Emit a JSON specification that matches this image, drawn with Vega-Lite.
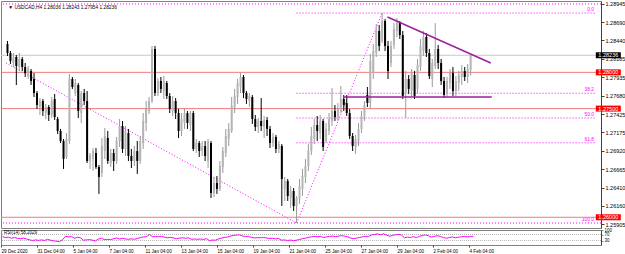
{
"$schema": "https://vega.github.io/schema/vega-lite/v6.json",
"padding": 0,
"spacing": 2,
"bounds": "flush",
"background": "white",
"config": {"view": {"stroke": "#808080"}, "font": "Liberation Sans", "axis": {"grid": false}},
"datasets": {
"bars": [
{"i":0,"o":1.28392,"h":1.28433,"l":1.28226,"c":1.28267,"r":55},
{"i":1,"o":1.28267,"h":1.28295,"l":1.28116,"c":1.28157,"r":50},
{"i":2,"o":1.28129,"h":1.28267,"l":1.28074,"c":1.28212,"r":52},
{"i":3,"o":1.28212,"h":1.2824,"l":1.27826,"c":1.28088,"r":45},
{"i":4,"o":1.28074,"h":1.28267,"l":1.28019,"c":1.28185,"r":50},
{"i":5,"o":1.28185,"h":1.28212,"l":1.28019,"c":1.28074,"r":45},
{"i":6,"o":1.28074,"h":1.28129,"l":1.27936,"c":1.27991,"r":42},
{"i":7,"o":1.27964,"h":1.28088,"l":1.27909,"c":1.28047,"r":46},
{"i":8,"o":1.28019,"h":1.28047,"l":1.27826,"c":1.27881,"r":40},
{"i":9,"o":1.27909,"h":1.27991,"l":1.2766,"c":1.27715,"r":35},
{"i":10,"o":1.27715,"h":1.27743,"l":1.27495,"c":1.2755,"r":30},
{"i":11,"o":1.27522,"h":1.27646,"l":1.27412,"c":1.27605,"r":34},
{"i":12,"o":1.27605,"h":1.27633,"l":1.27398,"c":1.27467,"r":31},
{"i":13,"o":1.27439,"h":1.27564,"l":1.27357,"c":1.27522,"r":34},
{"i":14,"o":1.27522,"h":1.2755,"l":1.27329,"c":1.27412,"r":30},
{"i":15,"o":1.27412,"h":1.2766,"l":1.2737,"c":1.27605,"r":38},
{"i":16,"o":1.27633,"h":1.27702,"l":1.27343,"c":1.27384,"r":32},
{"i":17,"o":1.27357,"h":1.27384,"l":1.2715,"c":1.27191,"r":28},
{"i":18,"o":1.27191,"h":1.27219,"l":1.27025,"c":1.27053,"r":25},
{"i":19,"o":1.27053,"h":1.27081,"l":1.26667,"c":1.26805,"r":22},
{"i":20,"o":1.26832,"h":1.27163,"l":1.26805,"c":1.27081,"r":35},
{"i":21,"o":1.27053,"h":1.27978,"l":1.27012,"c":1.27909,"r":58},
{"i":22,"o":1.27909,"h":1.27936,"l":1.27771,"c":1.27798,"r":54},
{"i":23,"o":1.27715,"h":1.27909,"l":1.27674,"c":1.27853,"r":56},
{"i":24,"o":1.27826,"h":1.27853,"l":1.2737,"c":1.27467,"r":45},
{"i":25,"o":1.27439,"h":1.27743,"l":1.27301,"c":1.27715,"r":52},
{"i":26,"o":1.27715,"h":1.27771,"l":1.2755,"c":1.27605,"r":48},
{"i":27,"o":1.27605,"h":1.27743,"l":1.26749,"c":1.26777,"r":32},
{"i":28,"o":1.26777,"h":1.26887,"l":1.26667,"c":1.2686,"r":34},
{"i":29,"o":1.26805,"h":1.26956,"l":1.26639,"c":1.26915,"r":36},
{"i":30,"o":1.26887,"h":1.26956,"l":1.26667,"c":1.26694,"r":32},
{"i":31,"o":1.26694,"h":1.26722,"l":1.26322,"c":1.26557,"r":28},
{"i":32,"o":1.26611,"h":1.27094,"l":1.26557,"c":1.26984,"r":40},
{"i":33,"o":1.26915,"h":1.27232,"l":1.26805,"c":1.27122,"r":44},
{"i":34,"o":1.27094,"h":1.27191,"l":1.26736,"c":1.26777,"r":36},
{"i":35,"o":1.26749,"h":1.26943,"l":1.26694,"c":1.26887,"r":38},
{"i":36,"o":1.26887,"h":1.26943,"l":1.26639,"c":1.26777,"r":36},
{"i":37,"o":1.26777,"h":1.27108,"l":1.26736,"c":1.27053,"r":42},
{"i":38,"o":1.27053,"h":1.27357,"l":1.2697,"c":1.2726,"r":47},
{"i":39,"o":1.2726,"h":1.27329,"l":1.26887,"c":1.26943,"r":40},
{"i":40,"o":1.26943,"h":1.2726,"l":1.26846,"c":1.27191,"r":45},
{"i":41,"o":1.27163,"h":1.27219,"l":1.26777,"c":1.26846,"r":40},
{"i":42,"o":1.26846,"h":1.26943,"l":1.2668,"c":1.26777,"r":38},
{"i":43,"o":1.26777,"h":1.26984,"l":1.26708,"c":1.26915,"r":41},
{"i":44,"o":1.26915,"h":1.27053,"l":1.26598,"c":1.26777,"r":38},
{"i":45,"o":1.26777,"h":1.27122,"l":1.26736,"c":1.27053,"r":44},
{"i":46,"o":1.27025,"h":1.27439,"l":1.26943,"c":1.27329,"r":50},
{"i":47,"o":1.27301,"h":1.27605,"l":1.27191,"c":1.27495,"r":54},
{"i":48,"o":1.27467,"h":1.2766,"l":1.27426,"c":1.27605,"r":56},
{"i":49,"o":1.27605,"h":1.28364,"l":1.27577,"c":1.28323,"r":70},
{"i":50,"o":1.28323,"h":1.28364,"l":1.27674,"c":1.27715,"r":55},
{"i":51,"o":1.27715,"h":1.27922,"l":1.27674,"c":1.27881,"r":58},
{"i":52,"o":1.27881,"h":1.27936,"l":1.27715,"c":1.27771,"r":55},
{"i":53,"o":1.27743,"h":1.2795,"l":1.27633,"c":1.27881,"r":58},
{"i":54,"o":1.27853,"h":1.27881,"l":1.27633,"c":1.27674,"r":52},
{"i":55,"o":1.27674,"h":1.27715,"l":1.27439,"c":1.27495,"r":48},
{"i":56,"o":1.27467,"h":1.27674,"l":1.27398,"c":1.27605,"r":51},
{"i":57,"o":1.27605,"h":1.27646,"l":1.27357,"c":1.27439,"r":47},
{"i":58,"o":1.27439,"h":1.27495,"l":1.27094,"c":1.27191,"r":42},
{"i":59,"o":1.27191,"h":1.27439,"l":1.27122,"c":1.27357,"r":46},
{"i":60,"o":1.27301,"h":1.27495,"l":1.27219,"c":1.27439,"r":48},
{"i":61,"o":1.27439,"h":1.27467,"l":1.27219,"c":1.27301,"r":45},
{"i":62,"o":1.27274,"h":1.27467,"l":1.27191,"c":1.27439,"r":48},
{"i":63,"o":1.27439,"h":1.27467,"l":1.26915,"c":1.26943,"r":38},
{"i":64,"o":1.26943,"h":1.27081,"l":1.26887,"c":1.27025,"r":40},
{"i":65,"o":1.27025,"h":1.27053,"l":1.26832,"c":1.26915,"r":38},
{"i":66,"o":1.26915,"h":1.27053,"l":1.26846,"c":1.26984,"r":40},
{"i":67,"o":1.26984,"h":1.27053,"l":1.26777,"c":1.26846,"r":37},
{"i":68,"o":1.26777,"h":1.27081,"l":1.2668,"c":1.27053,"r":42},
{"i":69,"o":1.27025,"h":1.27053,"l":1.26266,"c":1.26335,"r":30},
{"i":70,"o":1.26335,"h":1.26557,"l":1.2628,"c":1.26473,"r":33},
{"i":71,"o":1.26473,"h":1.2657,"l":1.26322,"c":1.26391,"r":32},
{"i":72,"o":1.26391,"h":1.26777,"l":1.26363,"c":1.26708,"r":40},
{"i":73,"o":1.26694,"h":1.2697,"l":1.26611,"c":1.26915,"r":46},
{"i":74,"o":1.26887,"h":1.27219,"l":1.26832,"c":1.27122,"r":51},
{"i":75,"o":1.27081,"h":1.27301,"l":1.26984,"c":1.27219,"r":53},
{"i":76,"o":1.27191,"h":1.2766,"l":1.27163,"c":1.27536,"r":60},
{"i":77,"o":1.27522,"h":1.27771,"l":1.27439,"c":1.27674,"r":63},
{"i":78,"o":1.2766,"h":1.27909,"l":1.27564,"c":1.27853,"r":66},
{"i":79,"o":1.27798,"h":1.27991,"l":1.27715,"c":1.27936,"r":68},
{"i":80,"o":1.27936,"h":1.27964,"l":1.27646,"c":1.27715,"r":60},
{"i":81,"o":1.27715,"h":1.27743,"l":1.27564,"c":1.27633,"r":57},
{"i":82,"o":1.27605,"h":1.27715,"l":1.27522,"c":1.27674,"r":58},
{"i":83,"o":1.2766,"h":1.27688,"l":1.27288,"c":1.27357,"r":50},
{"i":84,"o":1.27357,"h":1.27412,"l":1.27191,"c":1.27246,"r":47},
{"i":85,"o":1.27246,"h":1.2737,"l":1.27163,"c":1.27329,"r":49},
{"i":86,"o":1.27329,"h":1.27646,"l":1.27191,"c":1.2726,"r":48},
{"i":87,"o":1.27246,"h":1.27398,"l":1.27094,"c":1.27343,"r":50},
{"i":88,"o":1.27343,"h":1.27384,"l":1.27122,"c":1.27219,"r":47},
{"i":89,"o":1.27219,"h":1.2726,"l":1.26956,"c":1.27025,"r":43},
{"i":90,"o":1.27025,"h":1.27163,"l":1.2697,"c":1.27108,"r":45},
{"i":91,"o":1.27108,"h":1.27136,"l":1.26887,"c":1.26943,"r":41},
{"i":92,"o":1.26943,"h":1.27053,"l":1.26887,"c":1.27012,"r":43},
{"i":93,"o":1.26984,"h":1.27012,"l":1.26156,"c":1.26529,"r":32},
{"i":94,"o":1.26391,"h":1.26557,"l":1.26225,"c":1.26501,"r":34},
{"i":95,"o":1.26501,"h":1.26529,"l":1.26225,"c":1.26294,"r":30},
{"i":96,"o":1.26266,"h":1.26432,"l":1.26129,"c":1.26363,"r":33},
{"i":97,"o":1.26363,"h":1.26404,"l":1.26087,"c":1.26156,"r":29},
{"i":98,"o":1.26156,"h":1.26294,"l":1.25921,"c":1.26266,"r":32},
{"i":99,"o":1.26253,"h":1.26529,"l":1.26184,"c":1.26432,"r":37},
{"i":100,"o":1.26391,"h":1.26667,"l":1.26294,"c":1.2657,"r":42},
{"i":101,"o":1.26557,"h":1.26805,"l":1.26473,"c":1.26708,"r":46},
{"i":102,"o":1.26708,"h":1.27012,"l":1.26639,"c":1.26915,"r":51},
{"i":103,"o":1.26915,"h":1.27246,"l":1.2686,"c":1.27122,"r":55},
{"i":104,"o":1.27081,"h":1.27357,"l":1.27012,"c":1.27274,"r":58},
{"i":105,"o":1.27274,"h":1.27398,"l":1.27053,"c":1.27191,"r":55},
{"i":106,"o":1.27163,"h":1.27412,"l":1.27081,"c":1.27329,"r":58},
{"i":107,"o":1.27329,"h":1.27357,"l":1.26915,"c":1.2697,"r":50},
{"i":108,"o":1.27053,"h":1.27301,"l":1.27025,"c":1.27219,"r":54},
{"i":109,"o":1.27191,"h":1.27439,"l":1.27136,"c":1.27357,"r":57},
{"i":110,"o":1.27329,"h":1.27784,"l":1.2726,"c":1.27467,"r":59},
{"i":111,"o":1.27467,"h":1.2755,"l":1.27329,"c":1.27384,"r":56},
{"i":112,"o":1.27384,"h":1.27577,"l":1.27329,"c":1.27495,"r":59},
{"i":113,"o":1.27467,"h":1.27812,"l":1.27439,"c":1.27633,"r":62},
{"i":114,"o":1.27633,"h":1.27688,"l":1.27467,"c":1.2755,"r":59},
{"i":115,"o":1.27577,"h":1.27688,"l":1.27398,"c":1.27439,"r":55},
{"i":116,"o":1.27439,"h":1.27495,"l":1.27081,"c":1.27122,"r":46},
{"i":117,"o":1.27122,"h":1.27163,"l":1.26915,"c":1.26984,"r":43},
{"i":118,"o":1.2697,"h":1.27136,"l":1.26874,"c":1.27081,"r":46},
{"i":119,"o":1.27053,"h":1.27301,"l":1.26984,"c":1.27219,"r":50},
{"i":120,"o":1.27219,"h":1.27467,"l":1.27163,"c":1.27398,"r":55},
{"i":121,"o":1.27398,"h":1.27605,"l":1.27329,"c":1.2755,"r":58},
{"i":122,"o":1.27688,"h":1.27798,"l":1.27522,"c":1.27577,"r":57},
{"i":123,"o":1.27577,"h":1.28254,"l":1.27508,"c":1.28157,"r":67},
{"i":124,"o":1.27991,"h":1.28392,"l":1.27909,"c":1.28295,"r":70},
{"i":125,"o":1.28267,"h":1.28668,"l":1.28212,"c":1.28571,"r":74},
{"i":126,"o":1.28571,"h":1.28654,"l":1.28295,"c":1.28364,"r":68},
{"i":127,"o":1.28433,"h":1.28819,"l":1.28405,"c":1.28709,"r":75},
{"i":128,"o":1.28709,"h":1.28737,"l":1.28295,"c":1.28364,"r":66},
{"i":129,"o":1.28364,"h":1.28433,"l":1.27909,"c":1.28019,"r":58},
{"i":130,"o":1.28129,"h":1.28433,"l":1.28074,"c":1.28364,"r":64},
{"i":131,"o":1.28378,"h":1.28681,"l":1.28323,"c":1.28599,"r":68},
{"i":132,"o":1.28571,"h":1.2875,"l":1.28488,"c":1.28681,"r":71},
{"i":133,"o":1.28681,"h":1.28709,"l":1.28461,"c":1.28516,"r":66},
{"i":134,"o":1.28516,"h":1.28571,"l":1.27633,"c":1.27674,"r":48},
{"i":135,"o":1.27715,"h":1.28019,"l":1.2737,"c":1.27909,"r":53},
{"i":136,"o":1.27909,"h":1.27964,"l":1.27702,"c":1.27771,"r":50},
{"i":137,"o":1.27743,"h":1.28047,"l":1.27674,"c":1.27991,"r":56},
{"i":138,"o":1.27964,"h":1.28019,"l":1.27633,"c":1.27674,"r":49},
{"i":139,"o":1.27771,"h":1.28185,"l":1.27715,"c":1.28102,"r":58},
{"i":140,"o":1.28074,"h":1.28461,"l":1.28019,"c":1.28364,"r":64},
{"i":141,"o":1.28295,"h":1.28571,"l":1.28226,"c":1.28488,"r":67},
{"i":142,"o":1.28488,"h":1.28543,"l":1.28212,"c":1.28267,"r":61},
{"i":143,"o":1.28267,"h":1.28323,"l":1.27909,"c":1.2795,"r":53},
{"i":144,"o":1.27909,"h":1.28185,"l":1.27798,"c":1.28129,"r":58},
{"i":145,"o":1.28088,"h":1.28681,"l":1.28047,"c":1.28323,"r":62},
{"i":146,"o":1.28323,"h":1.28378,"l":1.28047,"c":1.28129,"r":57},
{"i":147,"o":1.28129,"h":1.28185,"l":1.27826,"c":1.27881,"r":50},
{"i":148,"o":1.27881,"h":1.27936,"l":1.27646,"c":1.27688,"r":45},
{"i":149,"o":1.27715,"h":1.27936,"l":1.2766,"c":1.27881,"r":50},
{"i":150,"o":1.27853,"h":1.28047,"l":1.27771,"c":1.27991,"r":54},
{"i":151,"o":1.27991,"h":1.28074,"l":1.27674,"c":1.27743,"r":48},
{"i":152,"o":1.27743,"h":1.2795,"l":1.27674,"c":1.27881,"r":52},
{"i":153,"o":1.27853,"h":1.28019,"l":1.27743,"c":1.27964,"r":55},
{"i":154,"o":1.27936,"h":1.28102,"l":1.27826,"c":1.28019,"r":57},
{"i":155,"o":1.28019,"h":1.28074,"l":1.27881,"c":1.27936,"r":54},
{"i":156,"o":1.27936,"h":1.28116,"l":1.27853,"c":1.28047,"r":57},
{"i":157,"o":1.28036,"h":1.28243,"l":1.27954,"c":1.28236,"r":58.2}
]
},
"vconcat": [
{
"width": 600,
"height": 227,
"encoding": {
"x": {"type": "quantitative", "scale": {"domain": [-0.5, 199.5], "nice": false, "zero": false}, "axis": null},
"y": {"type": "quantitative", "scale": {"domain": [1.25852, 1.28985], "nice": false, "zero": false},
"axis": {"orient": "right", "title": null, "values": [1.28945,1.2869,1.2844,1.28185,1.27935,1.2768,1.27425,1.27175,1.2692,1.26665,1.2641,1.2616,1.25905], "format": ".5f", "labelFontSize": 5.5, "labelColor": "#000000", "tickSize": 3, "tickColor": "#404040", "domainColor": "#404040", "labelPadding": 1, "labelBound": false, "labelOverlap": false, "labelFlush": false}}
},
"layer": [
{"data": {"values": [{"p": 1.28944}, {"p": 1.25921}]}, "mark": {"type": "rule", "color": "#ff00ff", "strokeDash": [1, 2], "strokeWidth": 1}, "encoding": {"y": {"field": "p", "type": "quantitative"}}},
{"data": {"values": [{"p": 1.28819}, {"p": 1.27712}, {"p": 1.2737}, {"p": 1.27028}]}, "mark": {"type": "rule", "color": "#ff00ff", "strokeDash": [1, 2], "strokeWidth": 1}, "encoding": {"y": {"field": "p", "type": "quantitative"}, "x": {"datum": 98, "type": "quantitative"}, "x2": {"datum": 199.5}}},
{"data": {"values": [{"lv": "0.0", "p": 1.28819}, {"lv": "38.2", "p": 1.27712}, {"lv": "50.0", "p": 1.2737}, {"lv": "61.8", "p": 1.27028}, {"lv": "100.0", "p": 1.25921}]}, "mark": {"type": "text", "color": "#ff00ff", "fontSize": 4.8, "align": "right", "baseline": "middle", "dy": -3}, "encoding": {"y": {"field": "p", "type": "quantitative"}, "x": {"datum": 198.8, "type": "quantitative"}, "text": {"field": "lv"}}},
{"data": {"values": [{"bi": -0.5, "p": 1.28129, "g": "a"}, {"bi": 98, "p": 1.25921, "g": "a"}, {"bi": 98, "p": 1.25921, "g": "b"}, {"bi": 127, "p": 1.28819, "g": "b"}]}, "mark": {"type": "line", "color": "#ff00ff", "strokeDash": [1, 2], "strokeWidth": 1}, "encoding": {"x": {"field": "bi", "type": "quantitative"}, "y": {"field": "p", "type": "quantitative"}, "detail": {"field": "g"}}},
{"data": {"values": [{"p": 1.28236}]}, "mark": {"type": "rule", "color": "#c8c8c8", "strokeWidth": 1}, "encoding": {"y": {"field": "p", "type": "quantitative"}}},
{"data": {"values": [{"p": 1.28}, {"p": 1.275}, {"p": 1.26}]}, "mark": {"type": "rule", "color": "#f07c7c", "strokeWidth": 1}, "encoding": {"y": {"field": "p", "type": "quantitative"}}},
{"data": {"name": "bars"}, "mark": {"type": "rule", "strokeWidth": 1}, "encoding": {"x": {"field": "i", "type": "quantitative"}, "y": {"field": "h", "type": "quantitative"}, "y2": {"field": "l"}, "color": {"condition": {"test": "datum.c >= datum.o", "value": "#9a9a9a"}, "value": "#000000"}}},
{"data": {"name": "bars"}, "mark": {"type": "bar", "size": 2}, "encoding": {"x": {"field": "i", "type": "quantitative"}, "y": {"field": "o", "type": "quantitative"}, "y2": {"field": "c"}, "color": {"condition": {"test": "datum.c >= datum.o", "value": "#b4b4b4"}, "value": "#000000"}}},
{"data": {"values": [{"bi": 128.83, "p": 1.28764, "g": "t"}, {"bi": 163.83, "p": 1.28129, "g": "t"}, {"bi": 113.83, "p": 1.2766, "g": "h"}, {"bi": 164.17, "p": 1.2766, "g": "h"}]}, "mark": {"type": "line", "color": "#9c1f9c", "strokeWidth": 1.5}, "encoding": {"x": {"field": "bi", "type": "quantitative"}, "y": {"field": "p", "type": "quantitative"}, "detail": {"field": "g"}}},
{"data": {"values": [{"t": "▼ USDCAD,H4  1.28036 1.28243 1.27954 1.28236"}]}, "mark": {"type": "text", "fontSize": 4.8, "align": "left", "baseline": "middle", "color": "#000000"}, "encoding": {"x": {"datum": 0.3, "type": "quantitative"}, "y": {"datum": 1.28889, "type": "quantitative"}, "text": {"field": "t"}}},
{"data": {"values": [{"p": 1.28236, "t": "1.28236", "k": "cur"}, {"p": 1.28, "t": "1.28000", "k": "lvl"}, {"p": 1.275, "t": "1.27500", "k": "lvl"}, {"p": 1.26, "t": "1.26000", "k": "lvl"}]}, "mark": {"type": "point", "filled": true, "opacity": 1, "size": 625, "shape": "M-1,-0.24L1,-0.24L1,0.24L-1,0.24Z"}, "encoding": {"x": {"datum": 203.67, "type": "quantitative"}, "y": {"field": "p", "type": "quantitative"}, "color": {"field": "k", "type": "nominal", "scale": {"domain": ["cur", "lvl"], "range": ["#000000", "#ff0000"]}, "legend": null}}},
{"data": {"values": [{"p": 1.28236, "t": "1.28236"}, {"p": 1.28, "t": "1.28000"}, {"p": 1.275, "t": "1.27500"}, {"p": 1.26, "t": "1.26000"}]}, "mark": {"type": "text", "fontSize": 5.5, "align": "center", "baseline": "middle", "color": "#ffffff"}, "encoding": {"x": {"datum": 203.67, "type": "quantitative"}, "y": {"field": "p", "type": "quantitative"}, "text": {"field": "t"}}}
]
},
{
"width": 600,
"height": 15,
"encoding": {
"x": {"type": "quantitative", "scale": {"domain": [-0.5, 199.5], "nice": false, "zero": false},
"axis": {"title": null, "values": [-0.5, 11.5, 23.5, 35.5, 47.5, 59.5, 71.5, 83.5, 95.5, 107.5, 119.5, 131.5, 143.5, 155.5], "labelExpr": "['29 Dec 2020','31 Dec 04:00','5 Jan 04:00','7 Jan 04:00','11 Jan 04:00','13 Jan 04:00','15 Jan 04:00','19 Jan 04:00','21 Jan 04:00','25 Jan 04:00','27 Jan 04:00','29 Jan 04:00','2 Feb 04:00','4 Feb 04:00'][round((datum.value+0.5)/12)]", "labelAlign": "left", "labelFontSize": 4.6, "labelColor": "#000000", "labelPadding": 1, "tickSize": 2, "tickColor": "#404040", "domain": false, "labelFlush": false, "labelOverlap": false, "labelBound": false, "labelDx": 1}},
"y": {"type": "quantitative", "scale": {"domain": [0, 100], "nice": false, "zero": false},
"axis": {"orient": "right", "title": null, "values": [100, 70, 30], "labelFontSize": 4.5, "labelColor": "#000000", "tickSize": 2, "labelPadding": 1, "domainColor": "#404040", "labelOverlap": false, "labelBound": false, "labelFlush": false}}
},
"layer": [
{"data": {"values": [{"v": 70}, {"v": 30}]}, "mark": {"type": "rule", "color": "#b8b8b8", "strokeDash": [1, 1], "strokeWidth": 1}, "encoding": {"y": {"field": "v", "type": "quantitative"}}},
{"data": {"name": "bars"}, "mark": {"type": "line", "color": "#ff00ff", "strokeWidth": 1}, "encoding": {"x": {"field": "i", "type": "quantitative"}, "y": {"field": "r", "type": "quantitative"}}},
{"data": {"values": [{"t": "RSI(14) 58.2029"}]}, "mark": {"type": "text", "fontSize": 4.5, "align": "left", "baseline": "middle", "color": "#000000"}, "encoding": {"x": {"datum": 0.5, "type": "quantitative"}, "y": {"datum": 78, "type": "quantitative"}, "text": {"field": "t"}}}
]
}
]
}
